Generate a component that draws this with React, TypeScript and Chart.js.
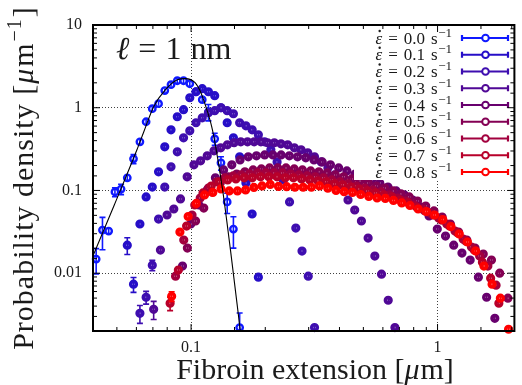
import React, { useEffect, useRef } from 'react';
import { Chart, registerables } from 'chart.js';

Chart.register(...registerables);

// ---------- data ----------
const rateLabels = ['0.0', '0.1', '0.2', '0.3', '0.4', '0.5', '0.6', '0.7', '0.8'];

// strain rate 0.0 s^-1
const ext00 = [0.0412, 0.0437, 0.0463, 0.0491, 0.052, 0.0551, 0.0584, 0.062, 0.0657, 0.0696, 0.0738, 0.0782, 0.0829, 0.0879, 0.0932, 0.0988, 0.1047, 0.111, 0.1176, 0.1247, 0.1322, 0.1401, 0.1485, 0.1574];
const dens00 = [0.0148, 0.0332, 0.0323, 0.0959, 0.104, 0.142, 0.241, 0.387, 0.677, 0.973, 1.12, 1.61, 1.9, 2.12, 2.12, 1.95, 1.56, 1.25, 0.894, 0.421, 0.216, 0.0726, 0.0341, 0.0022];
const err00 = [0.005, 0.014, 0.003, 0.012, 0.015, 0.015, 0.03, 0.03, 0.05, 0.06, 0.06, 0.07, 0.08, 0.08, 0.08, 0.08, 0.07, 0.07, 0.2, 0.07, 0.04, 0.02, 0.014, 0.0011];

// 0.1
const ext01 = [0.0551, 0.0584, 0.062, 0.0657, 0.0696, 0.0738, 0.0782, 0.0829, 0.0879, 0.0932, 0.0988, 0.1047, 0.111, 0.1176, 0.1247, 0.1322, 0.1401, 0.1485, 0.1574, 0.1669, 0.1769, 0.1875];
const dens01 = [0.0218, 0.00736, 0.0393, 0.0834, 0.11, 0.168, 0.337, 0.541, 0.778, 0.946, 1.32, 1.56, 1.7, 1.56, 1.4, 1.0, 0.658, 0.433, 0.255, 0.123, 0.0519, 0.00895];
const err01 = [0.005, 0.0015];

// 0.2
const ext02 = [0.062, 0.0657, 0.0696, 0.0738, 0.0782, 0.0829, 0.0879, 0.0932, 0.0988, 0.1047, 0.111, 0.1176, 0.1247, 0.1322, 0.1401, 0.1485, 0.1574, 0.1669, 0.1769, 0.1875, 0.1987, 0.2107, 0.2233, 0.2367, 0.2509, 0.266, 0.2819, 0.2988, 0.3168];
const dens02 = [0.00327, 0.00512, 0.0125, 0.0451, 0.11, 0.193, 0.293, 0.433, 0.526, 0.658, 0.756, 0.87, 0.92, 1.0, 0.92, 0.846, 0.658, 0.605, 0.541, 0.471, 0.387, 0.31, 0.221, 0.134, 0.0726, 0.0351, 0.0185, 0.0092, 0.0022];
const err02 = [0.0008, 0.0009, 0.0018];

// 0.3
const ext03 = [0.0705, 0.0751, 0.0799, 0.0851, 0.0906, 0.0964, 0.1027, 0.1093, 0.1163, 0.1239, 0.1319, 0.1404, 0.1494, 0.1591, 0.1694, 0.1803, 0.192, 0.2044, 0.2176, 0.2316, 0.2466, 0.2625, 0.2795, 0.2975, 0.3168, 0.3372, 0.359, 0.3822, 0.4069, 0.4332, 0.4612, 0.491, 0.5227, 0.5565, 0.5924, 0.6307, 0.6714];
const dens03 = [0.00366, 0.019, 0.0505, 0.0597, 0.0789, 0.146, 0.204, 0.228, 0.262, 0.301, 0.328, 0.356, 0.377, 0.387, 0.387, 0.387, 0.387, 0.377, 0.377, 0.366, 0.356, 0.328, 0.31, 0.285, 0.255, 0.221, 0.187, 0.154, 0.117, 0.0767, 0.058, 0.0427, 0.0266, 0.0161, 0.00973, 0.00471, 0.0022];
const err03 = [0.0009];

// 0.4
const ext04 = [0.0923, 0.0997, 0.1076, 0.1162, 0.1255, 0.1355, 0.1463, 0.158, 0.1706, 0.1842, 0.1989, 0.2148, 0.2319, 0.2504, 0.2704, 0.292, 0.3153, 0.3405, 0.3676, 0.397, 0.4286, 0.4628, 0.4998, 0.5397, 0.5827, 0.6292, 0.6795, 0.7337, 0.7923, 0.8555, 0.9238, 0.9975, 1.0771, 1.1631, 1.2559, 1.3562, 1.4644, 1.5813, 1.7075];
const dens04 = [0.0122, 0.0393, 0.0667, 0.101, 0.142, 0.177, 0.204, 0.234, 0.255, 0.262, 0.269, 0.269, 0.269, 0.262, 0.255, 0.248, 0.234, 0.221, 0.204, 0.187, 0.172, 0.158, 0.146, 0.134, 0.123, 0.11, 0.0986, 0.0882, 0.0767, 0.0631, 0.0491, 0.0341, 0.0281, 0.0218, 0.0175, 0.0144, 0.00895, 0.00512, 0.00285];
const err04: number[] = [];

// 0.5
const ext05 = [0.0966, 0.1043, 0.1126, 0.1216, 0.1313, 0.1418, 0.1531, 0.1653, 0.1785, 0.1928, 0.2082, 0.2248, 0.2427, 0.2621, 0.283, 0.3056, 0.33, 0.3563, 0.3848, 0.4155, 0.4486, 0.4844, 0.5231, 0.5648, 0.6099, 0.6586, 0.7111, 0.7679, 0.8292, 0.8953, 0.9668, 1.0439, 1.1272, 1.2172, 1.3143, 1.4192, 1.5324, 1.6547, 1.7868, 1.9294];
const dens05 = [0.0201, 0.0427, 0.0613, 0.0959, 0.123, 0.146, 0.158, 0.168, 0.177, 0.182, 0.187, 0.187, 0.187, 0.182, 0.177, 0.172, 0.168, 0.163, 0.154, 0.146, 0.138, 0.13, 0.123, 0.113, 0.107, 0.0986, 0.0907, 0.0834, 0.0746, 0.0649, 0.0565, 0.0477, 0.0393, 0.0314, 0.0251, 0.0201, 0.017, 0.0144, 0.01, 0.00498];
const err05: number[] = [];

// 0.6
const ext06 = [0.0865, 0.0934, 0.1009, 0.1089, 0.1176, 0.127, 0.1371, 0.1481, 0.1599, 0.1726, 0.1864, 0.2013, 0.2173, 0.2347, 0.2534, 0.2736, 0.2955, 0.319, 0.3445, 0.372, 0.4017, 0.4337, 0.4684, 0.5057, 0.5461, 0.5897, 0.6367, 0.6875, 0.7424, 0.8016, 0.8656, 0.9347, 1.0093, 1.0898, 1.1768, 1.2707, 1.3721, 1.4816, 1.5998, 1.7275];
const dens06 = [0.0092, 0.0251, 0.0505, 0.0811, 0.107, 0.127, 0.142, 0.15, 0.154, 0.158, 0.163, 0.163, 0.163, 0.163, 0.158, 0.154, 0.15, 0.146, 0.142, 0.134, 0.127, 0.12, 0.113, 0.107, 0.101, 0.0959, 0.0882, 0.0811, 0.0746, 0.0667, 0.0597, 0.0534, 0.0464, 0.0393, 0.0323, 0.0258, 0.0207, 0.0161, 0.0122, 0.00716];
const err06: number[] = [];

// 0.7
const ext07 = [0.0822, 0.0888, 0.0959, 0.1035, 0.1118, 0.1207, 0.1303, 0.1407, 0.152, 0.1641, 0.1772, 0.1913, 0.2066, 0.2231, 0.2409, 0.2601, 0.2808, 0.3032, 0.3274, 0.3536, 0.3818, 0.4122, 0.4451, 0.4807, 0.519, 0.5604, 0.6052, 0.6535, 0.7056, 0.7619, 0.8227, 0.8884, 0.9593, 1.0358, 1.1185, 1.2077, 1.3041, 1.4082, 1.5205, 1.6419, 1.7729];
const dens07 = [0.00433, 0.0109, 0.0371, 0.0667, 0.0933, 0.113, 0.127, 0.134, 0.138, 0.142, 0.142, 0.146, 0.146, 0.146, 0.142, 0.142, 0.138, 0.134, 0.13, 0.127, 0.12, 0.117, 0.11, 0.104, 0.0986, 0.0933, 0.0882, 0.0834, 0.0767, 0.0706, 0.0631, 0.0565, 0.0505, 0.0439, 0.0371, 0.0305, 0.0244, 0.019, 0.0136, 0.00869, 0.00433];
const err07 = [0.0008];

// 0.8
const ext08 = [0.0834, 0.0901, 0.0973, 0.105, 0.1134, 0.1225, 0.1322, 0.1428, 0.1542, 0.1664, 0.1798, 0.1941, 0.2095, 0.2263, 0.2443, 0.2637, 0.2849, 0.3076, 0.332, 0.3587, 0.3873, 0.418, 0.4516, 0.4875, 0.5262, 0.5685, 0.6138, 0.6625, 0.7157, 0.7727, 0.834, 0.901, 0.9727, 1.05, 1.134, 1.225, 1.322, 1.428, 1.542, 1.664, 1.798, 1.941];
const dens08 = [0.00526, 0.0314, 0.0484, 0.0696, 0.0882, 0.0946, 0.1043, 0.0986, 0.0986, 0.1014, 0.1087, 0.1134, 0.1183, 0.1118, 0.1112, 0.1093, 0.1093, 0.1093, 0.1134, 0.1063, 0.1, 0.0966, 0.0946, 0.0894, 0.0846, 0.0811, 0.08, 0.0757, 0.0706, 0.0658, 0.0597, 0.0556, 0.0505, 0.0445, 0.0366, 0.0297, 0.0238, 0.0185, 0.0122, 0.00736, 0.00498, 0.0021];
const err08 = [0.0007];

// fitted curve (black line)
const fitExt = [0.0398, 0.0488, 0.0603, 0.0643, 0.0705, 0.0787, 0.0879, 0.0946, 0.1038, 0.1096, 0.1148, 0.1213, 0.1259, 0.1343, 0.1445, 0.1585];
const fitDens = [0.0156, 0.0667, 0.31, 0.512, 1.028, 1.65, 2.18, 2.25, 2.01, 1.52, 1.03, 0.588, 0.337, 0.101, 0.019, 0.00198];

// axis ranges
const xMin = 0.04, xMax = 2.05, yMin = 0.002, yMax = 10;

// ---------- styles ----------
const seriesColors = ['rgb(15,25,255)', 'rgb(38,14,200)', 'rgb(62,14,176)', 'rgb(80,8,150)', 'rgb(104,0,110)', 'rgb(132,0,84)', 'rgb(162,0,62)', 'rgb(184,0,42)', 'rgb(255,0,0)'];
const SERIF = '"Liberation Serif", "DejaVu Serif", serif';

const isPow10 = (v: number) => {
  const l = Math.log10(v);
  return Math.abs(l - Math.round(l)) < 1e-6;
};

type Piece = { t: string; f: string; dy?: number; gap?: number; dot?: boolean };
function piecesWidth(ctx: CanvasRenderingContext2D, ps: Piece[]) {
  let w = 0;
  for (const p of ps) { ctx.font = p.f; w += ctx.measureText(p.t).width + (p.gap || 0); }
  return w;
}
function drawPieces(ctx: CanvasRenderingContext2D, ps: Piece[], x: number, y: number) {
  for (const p of ps) {
    ctx.font = p.f;
    ctx.fillText(p.t, x, y + (p.dy || 0));
    const w = ctx.measureText(p.t).width;
    if (p.dot) {
      ctx.beginPath();
      ctx.arc(x + w * 0.62, y - 12.5, 1.2, 0, Math.PI * 2);
      ctx.fill();
    }
    x += w + (p.gap || 0);
  }
}

const decorPlugin = {
  id: 'decor',
  afterDatasetDraw(chart: any, args: any) {
    const ds = chart.data.datasets[args.index];
    if (!ds.isSeries) return;
    const ctx: CanvasRenderingContext2D = chart.ctx;
    const a = chart.chartArea;
    const ys = chart.scales.y;
    ctx.save();
    ctx.beginPath();
    ctx.rect(a.left - 8, a.top, a.right - a.left + 16, a.bottom - a.top);
    ctx.clip();
    ctx.strokeStyle = ds.borderColor;
    ctx.lineWidth = 1.6;
    args.meta.data.forEach((pt: any, j: number) => {
      const v = ds.data[j].y;
      const e = ds.errors[j] || 0;
      let top = pt.y - 2.2, bot = pt.y + 2.2, caps = false;
      if (e > 0) {
        const t = ys.getPixelForValue(v + e);
        const b = v - e > 0 ? ys.getPixelForValue(v - e) : a.bottom + 20;
        if (pt.y - t > 4.5 || b - pt.y > 4.5) caps = true;
        top = Math.min(top, t);
        bot = Math.max(bot, Math.min(b, a.bottom + 20));
      }
      ctx.beginPath();
      ctx.moveTo(pt.x, top); ctx.lineTo(pt.x, bot);
      if (caps) {
        ctx.moveTo(pt.x - 3, top); ctx.lineTo(pt.x + 3, top);
        ctx.moveTo(pt.x - 3, bot); ctx.lineTo(pt.x + 3, bot);
      }
      ctx.stroke();
    });
    ctx.restore();
  },
  afterDraw(chart: any) {
    const ctx: CanvasRenderingContext2D = chart.ctx;
    const a = chart.chartArea;
    const xs = chart.scales.x, ys = chart.scales.y;
    ctx.save();

    // legend box
    ctx.fillStyle = '#fff';
    ctx.fillRect(354, 27, 164, 153);
    const series = chart.data.datasets.filter((d: any) => d.isSeries);
    series.forEach((d: any, i: number) => {
      const cy = 38 + 16.75 * i;
      ctx.fillStyle = '#1a1a1a';
      ctx.textAlign = 'left';
      ctx.textBaseline = 'alphabetic';
      const ps: Piece[] = [
        { t: '\u03B5', f: `italic 17px ${SERIF}`, gap: 6, dot: true },
        { t: '=', f: `17px ${SERIF}`, gap: 6 },
        { t: d.rateText, f: `17px ${SERIF}`, gap: 6 },
        { t: 's', f: `17px ${SERIF}`, gap: 0.5 },
        { t: '\u22121', f: `13px ${SERIF}`, dy: -7 },
      ];
      const w = piecesWidth(ctx, ps);
      drawPieces(ctx, ps, 452 - w, cy + 5.5);
      // sample
      ctx.strokeStyle = d.borderColor;
      ctx.lineWidth = 2.2;
      ctx.beginPath();
      ctx.moveTo(462, cy); ctx.lineTo(508, cy);
      ctx.moveTo(462, cy - 3); ctx.lineTo(462, cy + 3);
      ctx.moveTo(508, cy - 3); ctx.lineTo(508, cy + 3);
      ctx.stroke();
      ctx.beginPath();
      ctx.arc(485.5, cy, 3.3, 0, Math.PI * 2);
      ctx.fillStyle = '#fff';
      ctx.fill();
      ctx.lineWidth = 2;
      ctx.stroke();
    });

    // in-plot label
    ctx.fillStyle = '#1a1a1a';
    ctx.textAlign = 'left';
    ctx.textBaseline = 'alphabetic';
    drawPieces(ctx, [
      { t: '\u2113', f: `italic 32px ${SERIF}`, gap: 9 },
      { t: '=', f: `32px ${SERIF}`, gap: 9 },
      { t: '1', f: `32px ${SERIF}`, gap: 9 },
      { t: 'nm', f: `32px ${SERIF}` },
    ], 116, 59);

    // frame
    ctx.strokeStyle = '#000';
    ctx.lineWidth = 2;
    ctx.strokeRect(a.left, a.top, a.right - a.left, a.bottom - a.top);

    // inward tick marks
    ctx.lineWidth = 1;
    ctx.beginPath();
    xs.ticks.forEach((t: any) => {
      const px = xs.getPixelForValue(t.value);
      if (px < a.left + 2 || px > a.right - 2) return;
      const len = isPow10(t.value) ? 7 : 4;
      ctx.moveTo(px, a.bottom); ctx.lineTo(px, a.bottom - len);
      ctx.moveTo(px, a.top); ctx.lineTo(px, a.top + len);
    });
    ys.ticks.forEach((t: any) => {
      const py = ys.getPixelForValue(t.value);
      if (py < a.top + 2 || py > a.bottom - 2) return;
      const len = isPow10(t.value) ? 7 : 4;
      ctx.moveTo(a.left, py); ctx.lineTo(a.left + len, py);
      ctx.moveTo(a.right, py); ctx.lineTo(a.right - len, py);
    });
    ctx.stroke();

    // axis titles
    ctx.fillStyle = '#1a1a1a';
    const xt: Piece[] = [
      { t: 'Fibroin extension [', f: `30px ${SERIF}` },
      { t: '\u03BC', f: `italic 30px ${SERIF}`, gap: 1 },
      { t: 'm]', f: `30px ${SERIF}` },
    ];
    const xw = piecesWidth(ctx, xt);
    drawPieces(ctx, xt, 315 - xw / 2, 379);

    ctx.save();
    ctx.translate(33, (a.top + a.bottom) / 2);
    ctx.rotate(-Math.PI / 2);
    try { (ctx as any).letterSpacing = '1px'; } catch (e) { /* ignore */ }
    const yt: Piece[] = [
      { t: 'Probability density [', f: `30px ${SERIF}` },
      { t: '\u03BC', f: `italic 30px ${SERIF}`, gap: 1 },
      { t: 'm', f: `30px ${SERIF}`, gap: 1 },
      { t: '\u22121', f: `20px ${SERIF}`, dy: -12, gap: 1 },
      { t: ']', f: `30px ${SERIF}` },
    ];
    const yw = piecesWidth(ctx, yt);
    drawPieces(ctx, yt, -yw / 2, 0);
    ctx.restore();

    ctx.restore();
  },
};

export default function App() {
  const ref = useRef<HTMLCanvasElement>(null);
  useEffect(() => {
    const canvas = ref.current;
    if (!canvas) return;
    const exts = [ext00, ext01, ext02, ext03, ext04, ext05, ext06, ext07, ext08];
    const dens = [dens00, dens01, dens02, dens03, dens04, dens05, dens06, dens07, dens08];
    const errs = [err00, err01, err02, err03, err04, err05, err06, err07, err08];

    const datasets: any[] = rateLabels.map((lab, i) => ({
      type: 'scatter',
      label: `\u03B5\u0307 = ${lab} s\u207B\u00B9`,
      rateText: lab,
      isSeries: true,
      data: exts[i].map((x, j) => ({ x, y: dens[i][j] })),
      errors: errs[i],
      borderColor: seriesColors[i],
      backgroundColor: '#fff',
      pointBorderColor: seriesColors[i],
      pointBackgroundColor: '#fff',
      pointRadius: i === 0 ? 3.2 : 2.8,
      pointBorderWidth: i === 0 ? 2.4 : 3.6,
      showLine: false,
      order: 10 - i,
      clip: 8,
    }));
    datasets.push({
      type: 'line',
      label: 'fit',
      data: fitExt.map((x, j) => ({ x, y: fitDens[j] })),
      borderColor: '#000',
      borderWidth: 1.1,
      pointRadius: 0,
      fill: false,
      cubicInterpolationMode: 'monotone',
      order: 0,
    });

    const gridColor = (c: any) => (c.tick && isPow10(c.tick.value) ? 'rgba(0,0,0,0.75)' : 'rgba(0,0,0,0)');
    const tickLabel = (v: any) => (isPow10(Number(v)) ? String(Number(Number(v).toPrecision(3))) : '');

    const chart = new Chart(canvas, {
      type: 'scatter',
      data: { datasets },
      options: {
        responsive: false,
        animation: false,
        events: [],
        layout: { padding: { top: 25, right: 1, left: 0, bottom: 0 } },
        plugins: { legend: { display: false }, tooltip: { enabled: false }, title: { display: false } },
        scales: {
          x: {
            type: 'logarithmic',
            min: xMin,
            max: xMax,
            afterFit: (s: any) => { s.height = 54; },
            grid: { color: gridColor, lineWidth: 1, drawTicks: false },
            border: { display: false, dash: [1, 2] },
            ticks: { autoSkip: false, maxRotation: 0, padding: 7, color: '#1a1a1a', font: { family: SERIF, size: 16 }, callback: tickLabel },
          },
          y: {
            type: 'logarithmic',
            min: yMin,
            max: yMax,
            afterFit: (s: any) => { s.width = 93; },
            grid: { color: gridColor, lineWidth: 1, drawTicks: false },
            border: { display: false, dash: [1, 2] },
            ticks: { autoSkip: false, padding: 11, color: '#1a1a1a', font: { family: SERIF, size: 16 }, callback: tickLabel },
          },
        },
      } as any,
      plugins: [decorPlugin],
    } as any);
    return () => chart.destroy();
  }, []);

  return (
    <div style={{ position: 'fixed', left: 0, top: 0, width: 522, height: 385, background: '#fff' }}>
      <canvas ref={ref} width={522} height={385} style={{ display: 'block', width: 522, height: 385 }} />
    </div>
  );
}
